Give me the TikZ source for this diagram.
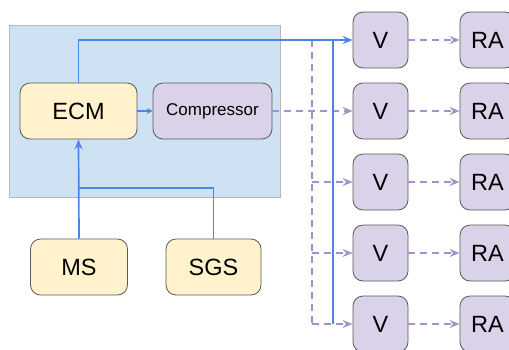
\documentclass[tikz,border=0pt]{standalone}
\usepackage{fontspec}
\setmainfont{Liberation Sans}
\usetikzlibrary{arrows.meta}
\definecolor{bgblue}{HTML}{CFE2F3}
\definecolor{bgedge}{HTML}{B7B7B7}
\definecolor{yfill}{HTML}{FFF2CC}
\definecolor{pfill}{HTML}{D9D2E9}
\definecolor{edgec}{HTML}{595959}
\definecolor{bline}{HTML}{4A86E8}
\definecolor{pline}{HTML}{A193C9}
\begin{document}
\begin{tikzpicture}[x=1pt,y=-1pt,
  box/.style={draw=edgec, line width=0.8pt, rounded corners=10pt, minimum height=56pt, inner sep=0pt, font=\fontsize{23.5}{25}\selectfont},
  ybox/.style={box, fill=yfill},
  pbox/.style={box, fill=pfill},
  vbox/.style={pbox, minimum width=55pt},
  blue line/.style={draw=bline, line width=1.7pt},
  pdash/.style={draw=pline, line width=1.7pt, dash pattern=on 7pt off 5pt},
  tip/.style={-{Stealth[length=10pt,width=8pt,inset=3.5pt]}}
]
\clip (0,0) rectangle (509,349);
\useasboundingbox (0,0) rectangle (509,349);
\node[draw=bgedge, fill=bgblue, line width=0.8pt, minimum width=271pt, minimum height=172pt, inner sep=0pt] (bg) at (144.5,111) {};
\node[ybox, minimum width=117pt] (ecm) at (78.5,111) {ECM};
\node[pbox, minimum width=119pt, font=\fontsize{17}{19}\selectfont] (comp) at (212.5,111) {Compressor};
\node[ybox, minimum width=97pt] (ms) at (79,267) {MS};
\node[ybox, minimum width=95pt] (sgs) at (213.5,267) {SGS};
\foreach \i/\yy in {1/40,2/111,3/182,4/253,5/324}{
  \node[vbox] (v\i) at (380.5,\yy) {V};
  \node[vbox] (ra\i) at (487.5,\yy) {RA};
  \draw[pdash, tip] (v\i.east) -- (ra\i.west);
}
\coordinate (dj) at (312,40);
\coordinate (d3) at (312,182);
\coordinate (d4) at (312,253);
\coordinate (d5) at (312,324);
\coordinate (bj) at (333,40);
\coordinate (bk) at (333,324);
\coordinate (mj) at (79,188);
\coordinate (sj) at (213.5,188);
% dashed purple
\draw[pdash] (dj) -- (d5);
\draw[pdash, tip] (comp.east) -- (v2.west);
\draw[pdash, tip] (d3) -- (v3.west);
\draw[pdash, tip] (d4) -- (v4.west);
\draw[pdash, tip] (d5) -- (v5.west);
% blue
\draw[blue line, tip] (ecm.north) -- (ecm.north |- v1.west) -- (v1.west);
\draw[blue line] (bj) -- (bk);
\draw[blue line, -{Stealth[length=6pt,width=6pt,inset=2pt]}] (ecm.east) -- (comp.west);
\draw[blue line, tip] (ms.north) -- (ecm.south);
\draw[blue line] (sgs.north) -- (sj) -- (mj);
\end{tikzpicture}
\end{document}
